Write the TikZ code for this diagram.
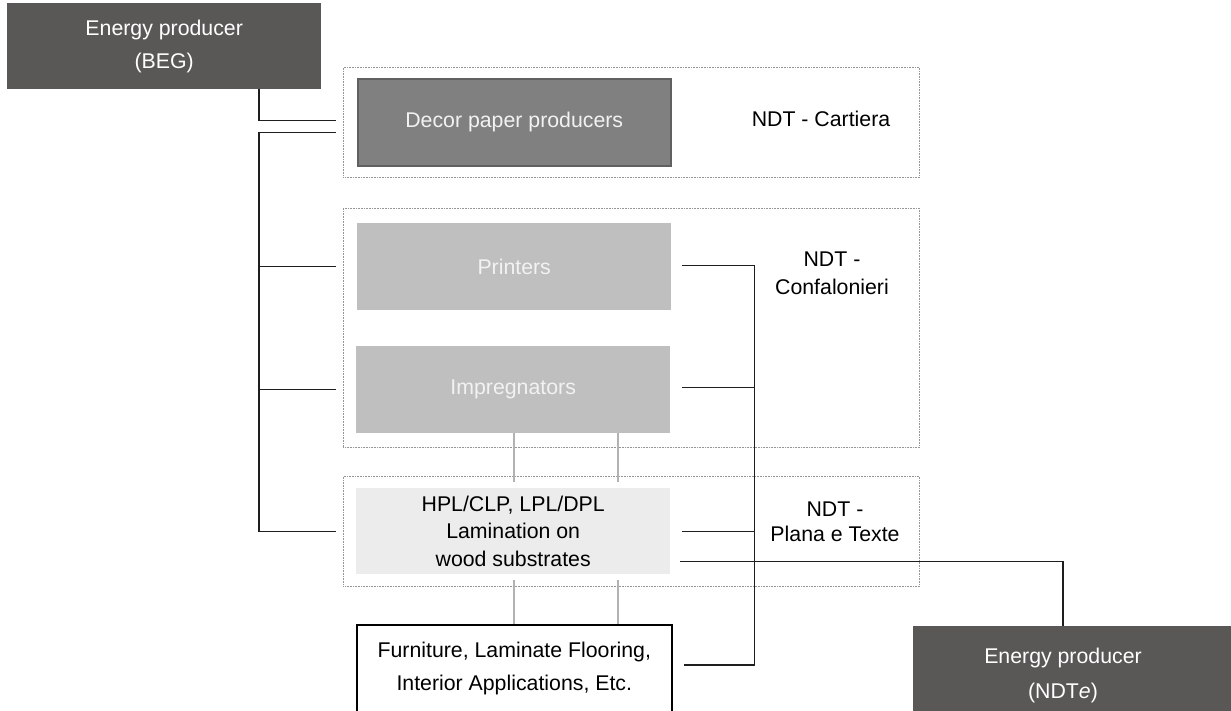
\documentclass[tikz,border=0pt]{standalone}
\usepackage{fontspec}
\setmainfont{Liberation Sans}
\definecolor{darkbox}{RGB}{89,88,86}
\definecolor{decorfill}{RGB}{128,128,128}
\definecolor{decorline}{RGB}{96,96,96}
\definecolor{midfill}{RGB}{191,191,191}
\definecolor{lightfill}{RGB}{236,236,236}
\definecolor{paletext}{RGB}{242,242,242}
\definecolor{conncol}{RGB}{30,30,30}
\definecolor{greyconn}{RGB}{178,178,178}
\definecolor{dotcol}{RGB}{150,150,150}
\tikzset{
  box/.style={anchor=north west, inner sep=0pt, align=center},
  grp/.style={box, draw=dotcol, line width=0.8pt, dash pattern=on 0.8pt off 0.8pt},
  conn/.style={draw=conncol, line width=1.4pt},
  greyline/.style={draw=greyconn, line width=1.5pt},
  lbl/.style={inner sep=0pt, align=center, text=black},
}
\begin{document}
\begin{tikzpicture}[x=1pt,y=-1pt]
\useasboundingbox[fill=white] (0,0) rectangle (1231,710);
\fontsize{21.3}{28}\selectfont
% groups
\node[grp, minimum width=576pt, minimum height=110pt] (g1) at (343,67) {};
\node[grp, minimum width=576pt, minimum height=239pt] (g2) at (343,208) {};
\node[grp, minimum width=576pt, minimum height=110pt] (g3) at (343,476) {};
% boxes
\node[box, fill=darkbox, text=white, minimum width=314pt, minimum height=86pt, font=\fontsize{21.3}{33}\selectfont] (beg) at (7,3) {Energy producer\\(BEG)};
\node[box, fill=decorfill, draw=decorline, line width=1.5pt, text=paletext, minimum width=313pt, minimum height=87pt] (decor) at (357,78) {Decor paper producers};
\node[box, fill=midfill, text=paletext, minimum width=314pt, minimum height=87pt] (printers) at (357,223) {Printers};
\node[box, fill=midfill, text=paletext, minimum width=314pt, minimum height=87pt] (impreg) at (356,346) {Impregnators};
\node[box, fill=lightfill, text=black, minimum width=314pt, minimum height=86pt, font=\fontsize{21.3}{27.5}\selectfont] (hpl) at (356,488) {HPL/CLP, LPL/DPL\\Lamination on\\wood substrates};
\node[box, fill=white, draw=black, line width=1.6pt, minimum width=315pt, minimum height=88pt, font=\fontsize{21.3}{33}\selectfont] (furn) at (356,624) {Furniture, Laminate Flooring,\\Interior Applications, Etc.};
\node[box, fill=darkbox, minimum width=330pt, minimum height=90pt] (ndte) at (913,626) {};
\node[lbl, text=white, font=\fontsize{21.3}{35}\selectfont] (ndtetext) at (1063,675) {Energy producer\\(NDT\textit{e})};
% labels
\node[lbl] (cartiera) at (821,119) {NDT - Cartiera};
\node[lbl] (conf) at (832,273) {NDT -\\Confalonieri};
\node[lbl, font=\fontsize{21.3}{25}\selectfont] (plana) at (835,522) {NDT -\\Plana e Texte};
% left bus
\draw[conn] ([xshift=-21pt,yshift=-10.5pt]decor.west) -- ++(-77,0) coordinate (lb) |- ([xshift=-20pt]hpl.west);
\draw[conn] (lb |- printers.west) -- ([xshift=-21pt]printers.west);
\draw[conn] (lb |- impreg.west) -- ([xshift=-20pt]impreg.west);
\draw[conn] (beg.south -| lb) |- ([xshift=-21pt,yshift=1.5pt]decor.west);
% right bus
\draw[conn] ([xshift=11pt,yshift=1.5pt]printers.east) -- ++(72,0) coordinate (rb) |- ([xshift=11pt,yshift=4pt]furn.east);
\draw[conn] ([xshift=12pt,yshift=2pt]impreg.east) coordinate (i1) -- (rb |- i1);
\draw[conn] ([xshift=12pt]hpl.east) -- (rb |- hpl.east);
% to NDTe
\draw[conn] ([xshift=10pt,yshift=-30pt]hpl.east) -| (ndtetext |- ndte.north);
% grey verticals
\draw[greyline] ([xshift=1pt]impreg.south) -- ([xshift=1pt,yshift=6pt]hpl.north);
\draw[greyline] ([xshift=105pt]impreg.south) -- ([xshift=105pt,yshift=6pt]hpl.north);
\draw[greyline] ([xshift=1pt,yshift=-6pt]hpl.south) coordinate (h1) -- (h1 |- furn.north);
\draw[greyline] ([xshift=105pt,yshift=-6pt]hpl.south) coordinate (h2) -- (h2 |- furn.north);
\end{tikzpicture}
\end{document}
